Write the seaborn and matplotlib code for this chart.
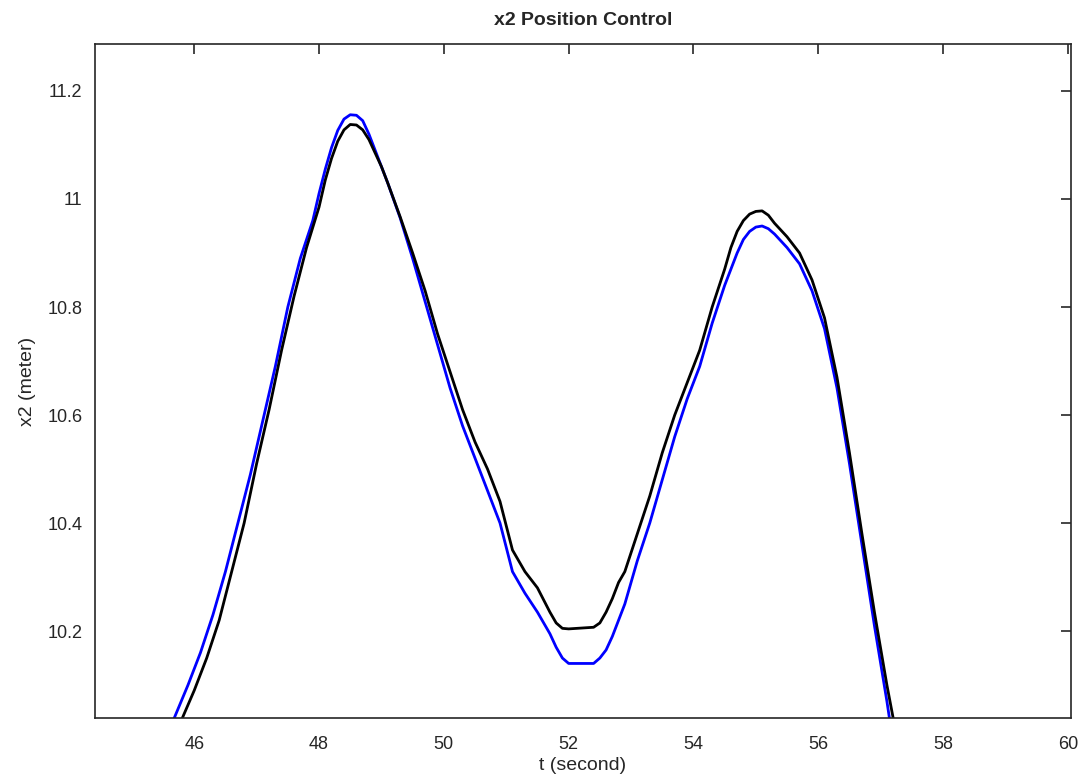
import numpy as np
import pandas as pd
import matplotlib
matplotlib.use('Agg')
import matplotlib.pyplot as plt
import seaborn as sns

# blue trace (reference)
t_blue = [45.68, 45.9, 46.1, 46.3, 46.5, 46.7, 46.9, 47.1, 47.3, 47.5, 47.7, 47.9,
          48.0, 48.1, 48.2, 48.3, 48.4, 48.5, 48.6, 48.7, 48.8, 48.9, 49.0,
          49.1, 49.3, 49.5, 49.7, 49.9, 50.1, 50.3, 50.5, 50.7, 50.9, 51.1, 51.3,
          51.5, 51.7, 51.8, 51.9, 52.0, 52.4, 52.5, 52.6, 52.7, 52.8,
          52.9, 53.1, 53.3, 53.5, 53.7, 53.9, 54.1, 54.3, 54.5,
          54.6, 54.7, 54.8, 54.9, 55.0, 55.1, 55.2, 55.3, 55.5, 55.7, 55.9,
          56.1, 56.3, 56.5, 56.7, 56.9, 57.1, 57.14]
x2_blue = [10.039, 10.10, 10.16, 10.23, 10.31, 10.40, 10.49, 10.59, 10.69, 10.80, 10.89, 10.96,
           11.01, 11.055, 11.095, 11.127, 11.148, 11.156, 11.155, 11.145, 11.12, 11.09, 11.06,
           11.03, 10.965, 10.89, 10.81, 10.73, 10.65, 10.58, 10.52, 10.46, 10.40, 10.31, 10.27,
           10.235, 10.195, 10.17, 10.15, 10.14, 10.14, 10.15, 10.165, 10.19, 10.22,
           10.25, 10.33, 10.40, 10.48, 10.56, 10.63, 10.69, 10.77, 10.84,
           10.87, 10.90, 10.925, 10.94, 10.948, 10.95, 10.945, 10.935, 10.91, 10.88, 10.83,
           10.76, 10.65, 10.51, 10.36, 10.21, 10.07, 10.039]

# black trace (actual)
t_black = [45.81, 46.0, 46.2, 46.4, 46.6, 46.8, 47.0, 47.2, 47.4, 47.6, 47.8,
           48.0, 48.1, 48.2, 48.3, 48.4, 48.5, 48.6, 48.7, 48.8, 48.9, 49.0,
           49.1, 49.3, 49.5, 49.7, 49.9, 50.1, 50.3, 50.5, 50.7, 50.9, 51.1, 51.3,
           51.5, 51.7, 51.8, 51.9, 52.0, 52.4, 52.5, 52.6, 52.7, 52.8,
           52.9, 53.1, 53.3, 53.5, 53.7, 53.9, 54.1, 54.3, 54.5,
           54.6, 54.7, 54.8, 54.9, 55.0, 55.1, 55.2, 55.3, 55.5, 55.7, 55.9,
           56.1, 56.3, 56.5, 56.7, 56.9, 57.1, 57.2]
x2_black = [10.039, 10.09, 10.15, 10.22, 10.31, 10.40, 10.51, 10.61, 10.72, 10.82, 10.91,
            10.985, 11.035, 11.075, 11.107, 11.128, 11.138, 11.137, 11.128, 11.11, 11.085, 11.06,
            11.03, 10.967, 10.90, 10.83, 10.75, 10.68, 10.61, 10.55, 10.50, 10.44, 10.35, 10.31,
            10.28, 10.235, 10.215, 10.205, 10.204, 10.207, 10.215, 10.235, 10.26, 10.29,
            10.31, 10.38, 10.45, 10.53, 10.60, 10.66, 10.72, 10.80, 10.87,
            10.91, 10.94, 10.96, 10.972, 10.977, 10.978, 10.97, 10.955, 10.93, 10.90, 10.85,
            10.78, 10.67, 10.53, 10.38, 10.235, 10.10, 10.039]

x_ticks = [46, 48, 50, 52, 54, 56, 58, 60]
y_ticks = [10.2, 10.4, 10.6, 10.8, 11.0, 11.2]
y_ticklabels = ['10.2', '10.4', '10.6', '10.8', '11', '11.2']

sns.set_style("white")
plt.rcParams['font.family'] = ['Liberation Sans', 'DejaVu Sans']

df_blue = pd.DataFrame({"t": t_blue, "x2": x2_blue})
df_black = pd.DataFrame({"t": t_black, "x2": x2_black})

fig = plt.figure(figsize=(10.83, 7.8), dpi=100)
ax = fig.add_axes([95 / 1083, 1 - 718 / 780, (1071 - 95) / 1083, (718 - 44) / 780])

sns.lineplot(data=df_blue, x="t", y="x2", color="#0000ff", linewidth=2, ax=ax)
sns.lineplot(data=df_black, x="t", y="x2", color="black", linewidth=2, ax=ax)

ax.set_xlim(44.41, 60.05)
ax.set_ylim(10.039, 11.287)
ax.set_xticks(x_ticks)
ax.set_yticks(y_ticks)
ax.set_yticklabels(y_ticklabels)

edge = '#262626'
for s in ax.spines.values():
    s.set_color(edge)
    s.set_linewidth(1.2)
ax.tick_params(direction='in', length=7, width=1.2, color=edge, labelsize=13,
               labelcolor='#262626', top=True, right=True)
ax.tick_params(axis='x', pad=13)
ax.tick_params(axis='y', pad=9)

ax.set_xlabel("t (second)", fontsize=14, color='#262626', labelpad=3)
ax.set_ylabel("x2 (meter)", fontsize=14, color='#262626', labelpad=8)
ax.set_title("x2 Position Control", fontsize=14, fontweight='bold', pad=14)

fig.savefig("out.png", dpi=100)
